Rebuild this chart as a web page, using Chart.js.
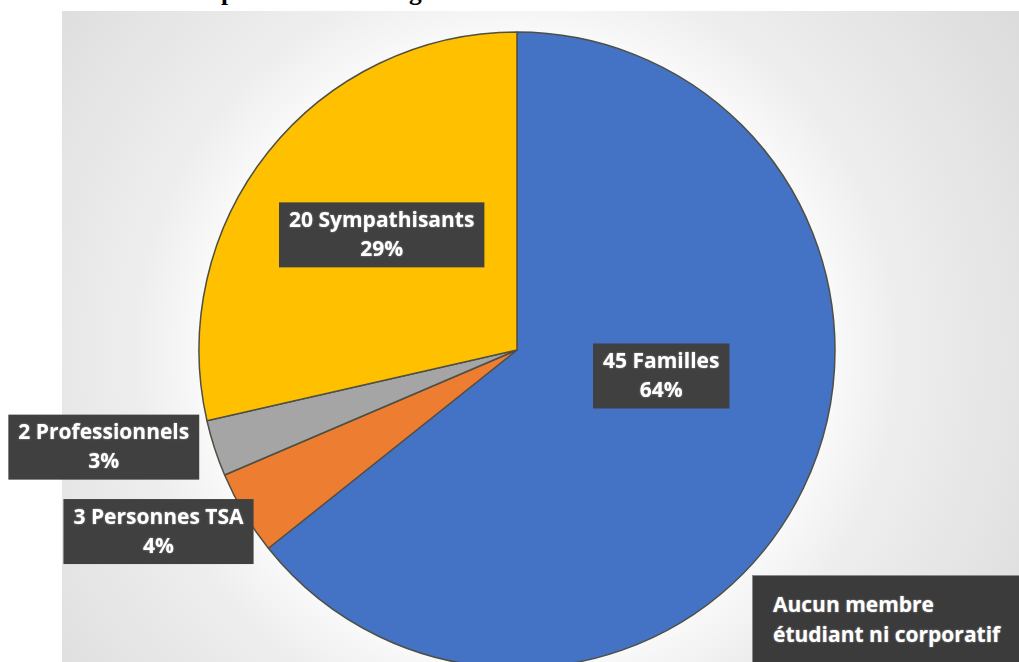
<!DOCTYPE html>
<html lang="fr">
<head>
<meta charset="utf-8">
<script src="https://cdn.jsdelivr.net/npm/chart.js@4.4.1/dist/chart.umd.min.js"></script>
<style>
  html, body { margin: 0; padding: 0; background: #fff; overflow: hidden; }
  body { width: 1019px; height: 662px; position: relative; }
  #panel {
    position: absolute; left: 62px; top: 11px; width: 957px; height: 651px;
    background: radial-gradient(circle at 455px 339px, #ffffff 0px, #fcfcfc 300px, #eeeeee 380px, #dadada 620px);
  }
  #title {
    position: absolute; white-space: nowrap;
    font-family: "Liberation Serif", serif; font-weight: bold; color: #000;
  }
  #chartBox { position: absolute; left: 0; top: 0; width: 1019px; height: 700px; }
  #note {
    position: absolute; left: 752px; top: 575px; width: 280px; height: 100px;
    background: #3b3b3b; border: 1px solid #8a8a8a; box-sizing: border-box;
    color: #fff; font-family: "Open Sans", sans-serif; font-weight: bold; font-size: 21px;
    line-height: 30px; padding: 13px 0 0 20px; white-space: nowrap;
    text-shadow: 0 0 2px rgba(255,255,255,0.5);
  }
</style>
</head>
<body>
<div id="panel"></div>
<div id="title"></div>
<div id="chartBox"><canvas id="pie" width="1019" height="700"></canvas></div>
<div id="note">Aucun membre<br>étudiant ni corporatif</div>
<script>
const categories = ['Familles', 'Personnes TSA', 'Professionnels', 'Sympathisants'];
const counts = [45, 3, 2, 20];
const percentLabels = ['64%', '4%', '3%', '29%'];
const colors = ['#4472C4', '#ED7D31', '#A5A5A5', '#FFC000'];
const titleText = 'Répartition des catégories de membres';

// where each label box sits, relative to the slice's own centre point
const labelOffsets = [[1, -43], [-222, 100], [-262, 48], [-11, -16]];

// title is cut off at the top of the picture, only the descenders show
function placeTitle() {
    const c = document.createElement('canvas').getContext('2d');
    c.font = "bold 100px 'Liberation Serif'";
    const w1 = c.measureText('Ré').width;
    const w2 = c.measureText('Répartition des caté').width;
    const s = 100 * (409 - 221) / (w2 - w1);
    const left = 221 - w1 * s / 100;
    const baseline = 6 - 0.217 * s;
    const t = document.getElementById('title');
    t.textContent = titleText;
    t.style.fontSize = s + 'px';
    t.style.lineHeight = s + 'px';
    t.style.left = left + 'px';
    t.style.top = (baseline - 0.8375 * s) + 'px';
}
placeTitle();

const boxLabels = {
    id: 'boxLabels',
    afterDatasetsDraw(chart) {
        const ctx = chart.ctx;
        chart.getDatasetMeta(0).data.forEach((arc, i) => {
            const p = arc.tooltipPosition();
            const x = p.x + labelOffsets[i][0];
            const y = p.y + labelOffsets[i][1];
            const l1 = counts[i] + ' ' + categories[i];
            const l2 = percentLabels[i];
            ctx.save();
            ctx.font = "bold 21px 'Open Sans'";
            const w = Math.max(ctx.measureText(l1).width, ctx.measureText(l2).width) + 20;
            const h = 65;
            ctx.fillStyle = '#404040';
            ctx.fillRect(x - w / 2, y - h / 2, w, h);
            ctx.fillStyle = '#ffffff';
            ctx.textAlign = 'center';
            ctx.textBaseline = 'middle';
            ctx.shadowColor = 'rgba(255,255,255,0.5)';
            ctx.shadowBlur = 2;
            ctx.fillText(l1, x, y - 14);
            ctx.fillText(l2, x, y + 15);
            ctx.restore();
        });
    }
};

new Chart(document.getElementById('pie'), {
    type: 'pie',
    data: {
        labels: categories,
        datasets: [{
            data: counts,
            backgroundColor: colors,
            borderColor: '#4f4f45',
            borderWidth: 1.5
        }]
    },
    options: {
        responsive: false,
        animation: false,
        radius: 318,
        layout: { padding: { left: 15, right: 0, top: 0, bottom: 0 } },
        plugins: {
            legend: { display: false },
            tooltip: { enabled: false }
        }
    },
    plugins: [boxLabels]
});
</script>
</body>
</html>
